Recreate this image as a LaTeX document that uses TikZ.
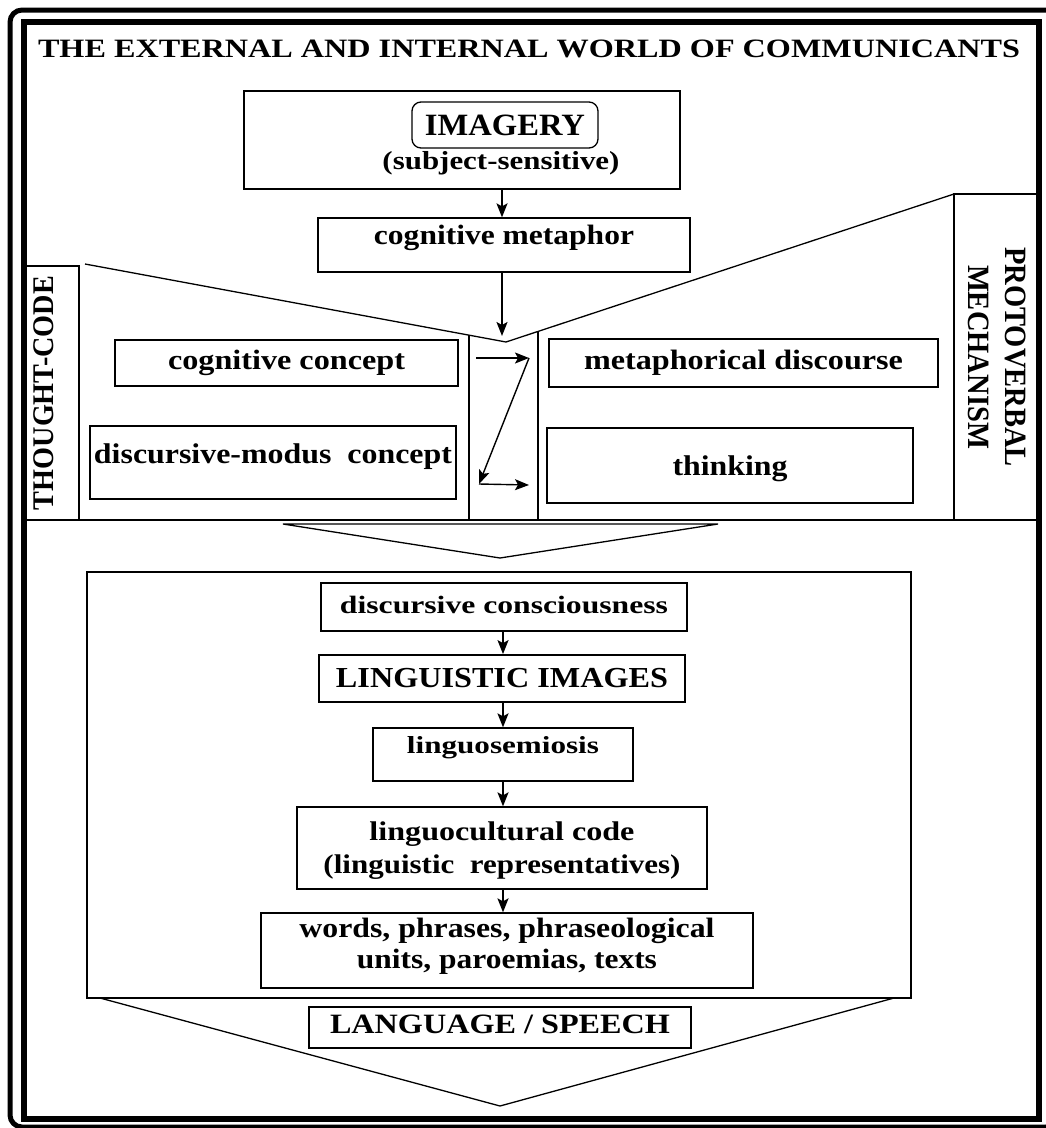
\documentclass[tikz,border=0pt]{standalone}
\usepackage{fontspec}
\setmainfont{Liberation Serif}
\usepackage{graphicx}
\usetikzlibrary{arrows.meta}
\newcommand\fw[3]{\resizebox{#1pt}{\height}{\fontsize{#2}{#2}\selectfont\bfseries #3}}
\newcommand\twol[4]{{\fontsize{#1}{#2}\selectfont\begin{tabular}[b]{@{}c@{}}#3\\#4\end{tabular}}}
\tikzset{
  ln/.style={line width=1.3pt},
  bx/.style 2 args={draw, line width=1.3pt, inner sep=0pt, minimum width=#1pt, minimum height=#2pt},
  tb/.style 2 args={text height=#1pt, text depth=#2pt},
  arr/.style={line width=1.5pt, -{Stealth[length=14pt,width=11pt,inset=3pt]}},
  sarr/.style={line width=1.4pt, -{Stealth[length=14pt,width=11pt,inset=3pt]}}
}
\begin{document}
\begin{tikzpicture}[x=1pt,y=-1pt]
\useasboundingbox (0,0) rectangle (1046,1128);
\clip (0,0) rectangle (1046,1128);
% frame
\draw[line width=5pt, rounded corners=12pt] (10,10) rectangle (1058,1127);
\draw[line width=6pt] (23.5,21.5) rectangle (1038.5,1118.5);
% title
\node[anchor=base, inner sep=0pt] (title) at (529,57) {\fw{982}{26.5}{THE EXTERNAL AND INTERNAL WORLD OF COMMUNICANTS}};
% imagery
\node[bx={436}{98}, tb={60}{2}] (imgbox) at (462,140) {\hspace*{78pt}\fw{237}{26}{(subject-sensitive)}};
\node[bx={186}{46}, rounded corners=9pt, tb={22}{2}] (imagery) at (505,125) {\fw{160}{31}{IMAGERY}};
\node[bx={372}{54}, tb={20}{22}] (cogmet) at (504,245) {\fw{260}{28}{cognitive metaphor}};
\coordinate (ux) at (502,0);
\coordinate (apextip) at (502,336);
\draw[arr] (imgbox.south -| ux) -- (cogmet.north -| ux);
\draw[arr] (cogmet.south -| ux) -- (apextip);
% funnel
\coordinate (fl) at (85,264);
\coordinate (apex) at (506,342);
\coordinate (fr) at (954,194);
\draw[ln] (fl) -- (apex) -- (fr);
\coordinate (v1t) at (469,335); \coordinate (v1b) at (469,520);
\coordinate (v2t) at (538,331); \coordinate (v2b) at (538,520);
\draw[ln] (v1t) -- (v1b);
\draw[ln] (v2t) -- (v2b);
\coordinate (hl) at (23,520); \coordinate (hr) at (1037,520);
\draw[ln] (hl) -- (hr);
% side boxes
\node[bx={254}{53}, rotate=90, tb={20}{19}] (tc) at (52.5,393) {\fw{234}{30}{THOUGHT-CODE}};
\node[bx={326}{83}, rotate=-90, tb={56}{1}] (pv) at (995.5,357) {\twol{31}{37}{\fw{220}{31}{PROTOVERBAL}}{\fw{184}{31}{MECHANISM}}};
% middle boxes
\node[bx={343}{46}, tb={16}{4}] (cc) at (286.5,363) {\fw{237}{28}{cognitive concept}};
\node[bx={389}{48}, tb={16}{4}] (md) at (743.5,363) {\fw{319}{28}{metaphorical discourse}};
\node[bx={366}{73}, tb={15}{14}] (dm) at (273,462.5) {\fw{358}{28.5}{discursive-modus~~concept}};
\node[bx={366}{75}, tb={20}{1}] (th) at (730,465.5) {\fw{115}{28.5}{thinking}};
\coordinate (m1) at (476,358); \coordinate (m2) at (529,358);
\coordinate (m3) at (479,484); \coordinate (m4) at (529,485);
\draw[sarr] (m1) -- (m2);
\draw[sarr] (m2) -- (m3);
\draw[sarr] (m3) -- (m4);
% lower triangle
\coordinate (t1) at (283,524); \coordinate (t2) at (500,558); \coordinate (t3) at (718,524);
\draw[ln] (t1) -- (t2) -- (t3) -- cycle;
% lower box
\node[bx={824}{426}] (lowbox) at (499,785) {};
\node[bx={366}{48}, tb={16}{4}] (dc) at (504,607) {\fw{328}{25}{discursive consciousness}};
\node[bx={366}{47}, tb={20}{3}, line width=1.8pt] (li) at (502,678.5) {\fw{332}{29}{LINGUISTIC IMAGES}};
\node[bx={260}{53}, tb={14}{17}] (ls) at (503,754.5) {\fw{192}{24.5}{linguosemiosis}};
\node[bx={410}{82}, tb={52}{2}] (lc) at (502,848) {\twol{27}{33}{\fw{265}{27}{linguocultural code}}{\fw{357}{27}{(linguistic~~representatives)}}};
\node[bx={492}{75}, tb={37}{2}] (wd) at (507,950.5) {\twol{28}{31}{\fw{415}{28}{words, phrases, phraseological}}{\fw{300}{28}{units, paroemias, texts}}};
\coordinate (lx) at (503,0);
\draw[arr] (dc.south -| lx) -- (li.north -| lx);
\draw[arr] (li.south -| lx) -- (ls.north -| lx);
\draw[arr] (ls.south -| lx) -- (lc.north -| lx);
\draw[arr] (lc.south -| lx) -- (wd.north -| lx);
% bottom V
\coordinate (b1) at (100,998); \coordinate (b2) at (500,1106); \coordinate (b3) at (894,998);
\draw[ln] (b1) -- (b2) -- (b3);
\node[bx={382}{41}, tb={18}{7}] (lsp) at (500,1027.5) {\fw{340}{28}{LANGUAGE / SPEECH}};
\end{tikzpicture}
\end{document}
